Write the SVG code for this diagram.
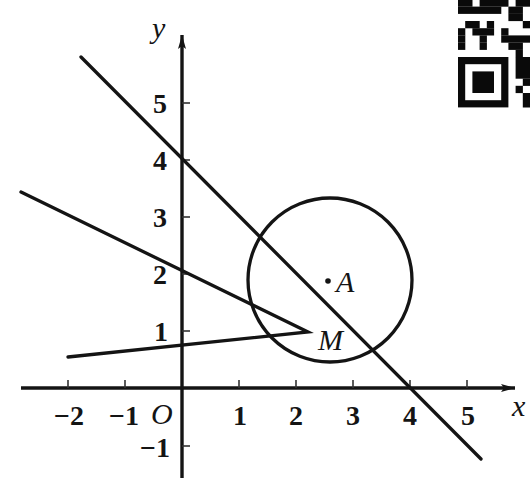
<svg xmlns="http://www.w3.org/2000/svg" width="530" height="478" viewBox="0 0 530 478">
<style>
.ax{stroke:#141414;stroke-width:3.4;fill:none}
.ln{stroke:#141414;stroke-width:3.3;fill:none;stroke-linecap:round}
.tk{stroke:#333;stroke-width:1.6}
.num{font-family:"Liberation Serif","Times New Roman",serif;font-weight:bold;font-size:28px;fill:#141414}
.it{font-family:"Liberation Serif","Times New Roman",serif;font-style:italic;font-size:30px;fill:#141414}
.q{fill:#0a0a0a}
</style>
<defs>
<marker id="arr" markerUnits="userSpaceOnUse" markerWidth="16" markerHeight="10" viewBox="-1 -5 16 10" refX="14" refY="0" orient="auto">
<path d="M0,-4 L14,0 L0,4 L3,0 Z" fill="#141414"/>
</marker>
</defs>
<rect width="530" height="478" fill="#ffffff"/>
<g id="axes">
<line class="ax" x1="21" y1="388" x2="515" y2="388" marker-end="url(#arr)"/>
<line class="ax" x1="182" y1="478" x2="182" y2="35" marker-end="url(#arr)"/>
</g>
<g id="ticks">
<line class="tk" x1="68" y1="388" x2="68" y2="380"/>
<line class="tk" x1="125" y1="388" x2="125" y2="380"/>
<line class="tk" x1="239" y1="388" x2="239" y2="380"/>
<line class="tk" x1="296" y1="388" x2="296" y2="380"/>
<line class="tk" x1="353" y1="388" x2="353" y2="380"/>
<line class="tk" x1="410" y1="388" x2="410" y2="380"/>
<line class="tk" x1="467" y1="388" x2="467" y2="380"/>
<line class="tk" x1="182" y1="103" x2="190" y2="103"/>
<line class="tk" x1="182" y1="160" x2="190" y2="160"/>
<line class="tk" x1="182" y1="217" x2="190" y2="217"/>
<line class="tk" x1="182" y1="274" x2="190" y2="274"/>
<line class="tk" x1="182" y1="331" x2="190" y2="331"/>
<line class="tk" x1="182" y1="446" x2="190" y2="446"/>
</g>
<g id="connectors">
<line class="ln" x1="81" y1="57" x2="481" y2="459"/>
<polyline class="ln" points="21,192 308,332 68,357" stroke-linejoin="miter"/>
</g>
<g id="circle">
<circle class="ln" cx="330" cy="280" r="82"/>
</g>
<g id="pointA">
<circle cx="328" cy="281" r="2.8" fill="#141414"/>
<text class="it" x="336" y="292">A</text>
</g>
<g id="pointM">
<text class="it" x="318" y="350">M</text>
</g>
<g id="labels">
<text class="it" x="152" y="38">y</text>
<text class="it" x="512" y="416">x</text>
<text class="it" x="151" y="424">O</text>
<g class="num" text-anchor="middle">
<text x="160" y="113">5</text>
<text x="160" y="170">4</text>
<text x="160" y="227">3</text>
<text x="160" y="284">2</text>
<text x="161" y="341">1</text>
<text x="240" y="425">1</text>
<text x="296" y="425">2</text>
<text x="353" y="425">3</text>
<text x="410" y="425">4</text>
<text x="468" y="425">5</text>
</g>
<g class="num" text-anchor="end">
<text x="84" y="425">−2</text>
<text x="139" y="425">−1</text>
<text x="170" y="457">−1</text>
</g>
</g>
<g id="qr">
<rect class="q" x="458" y="-0.6" width="14.5" height="7.3"/>
<rect class="q" x="479.6" y="-0.6" width="28.9" height="7.3"/>
<rect class="q" x="515.6" y="-0.6" width="14.5" height="7.3"/>
<rect class="q" x="458" y="6.6" width="43.3" height="7.3"/>
<rect class="q" x="508.4" y="6.6" width="14.5" height="7.3"/>
<rect class="q" x="508.4" y="13.8" width="14.5" height="7.3"/>
<rect class="q" x="465.2" y="21" width="14.5" height="7.3"/>
<rect class="q" x="486.8" y="21" width="7.3" height="7.3"/>
<rect class="q" x="522.8" y="21" width="7.3" height="7.3"/>
<rect class="q" x="458" y="28.2" width="7.3" height="7.3"/>
<rect class="q" x="472.4" y="28.2" width="21.7" height="7.3"/>
<rect class="q" x="501.2" y="28.2" width="7.3" height="7.3"/>
<rect class="q" x="458" y="35.4" width="7.3" height="7.3"/>
<rect class="q" x="479.6" y="35.4" width="7.3" height="7.3"/>
<rect class="q" x="501.2" y="35.4" width="28.9" height="7.3"/>
<rect class="q" x="458" y="42.6" width="7.3" height="7.3"/>
<rect class="q" x="479.6" y="42.6" width="7.3" height="7.3"/>
<rect class="q" x="508.4" y="42.6" width="14.5" height="7.3"/>
<rect class="q" x="515.6" y="49.8" width="7.3" height="7.3"/>
<rect class="q" x="458" y="57" width="50.4" height="50.4"/>
<rect x="465.2" y="64.2" width="36" height="36" fill="#ffffff"/>
<rect class="q" x="472.4" y="71.4" width="21.6" height="21.6"/>
<rect class="q" x="515.6" y="57" width="14.5" height="21.7"/>
<rect class="q" x="522.8" y="78.6" width="7.3" height="7.3"/>
<rect class="q" x="515.6" y="85.8" width="7.3" height="7.3"/>
<rect class="q" x="522.8" y="93" width="7.3" height="14.5"/>
</g>
</svg>
